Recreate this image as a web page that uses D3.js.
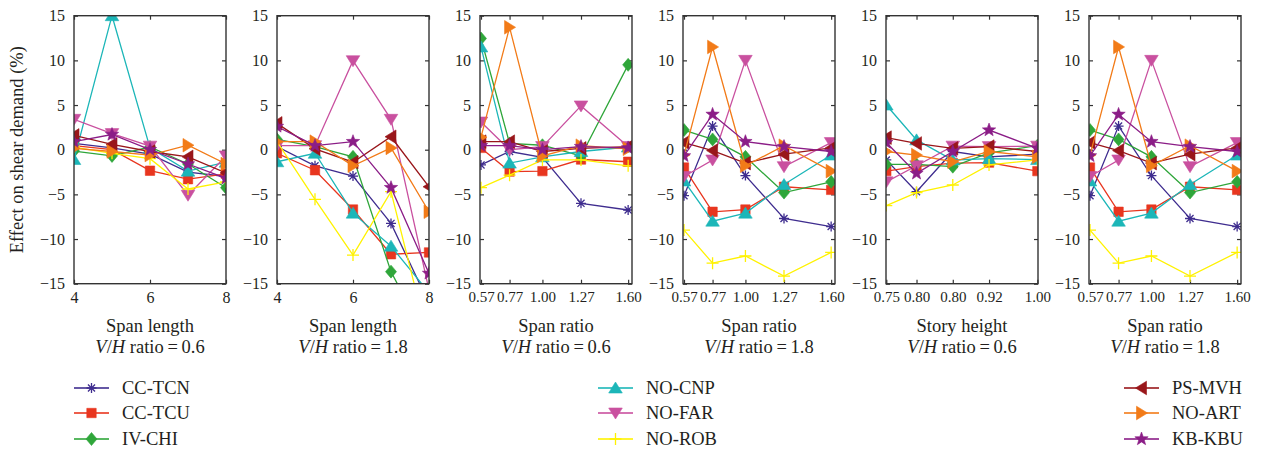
<!DOCTYPE html>
<html lang="en">
<head>
<meta charset="utf-8"/>
<style>
body { margin: 0; background: #fff; }
svg, svg text, svg tspan { font-family: "Liberation Serif", "Times New Roman", "DejaVu Serif", serif !important; }
.axis .domain { display: none; }
.axis line { stroke: #333; stroke-width: 1.2; }
</style>
</head>
<body>
<svg width="1269" height="451"></svg>
<script src="https://d3js.org/d3.v7.min.js"></script>
<script>

// series, in legend order
var seriesNames = ["CC-TCN", "CC-TCU", "IV-CHI", "NO-CNP", "NO-FAR", "NO-ROB", "PS-MVH", "NO-ART", "KB-KBU"];
var seriesColors = ["#3f2d8f", "#e8361f", "#2fa63a", "#1cb6b8", "#c9509f", "#fff200", "#99161a", "#f27b18", "#8b1d87"];
var seriesMarkers = ["asterisk", "square", "diamond", "triUp", "triDown", "plus", "triLeft", "triRight", "star"];

// x values and tick labels
var spanLength = [4, 5, 6, 7, 8];
var spanLengthTicks = [4, 6, 8];
var spanRatio = [0.57, 0.77, 1.00, 1.27, 1.60];
var spanRatioTicks = ["0.57", "0.77", "1.00", "1.27", "1.60"];
var storyHeight = [0.75, 0.80, 0.86, 0.92, 1.00];
var storyHeightTicks = ["0.75", "0.80", "0.80", "0.92", "1.00"];
var yTicks = [-15, -10, -5, 0, 5, 10, 15];

// effect on shear demand (%), one row per series
var lengthVH06 = [
  [0.7, 0.2, -0.5, -2.5, -3.0],
  [0.45, 0.0, -2.35, -3.3, -2.7],
  [-0.15, -0.7, 0.3, -1.6, -4.25],
  [-1.1, 15.0, 0.2, -2.4, -1.4],
  [3.4, 1.8, 0.4, -5.1, -0.7],
  [0.3, -0.4, -1.0, -4.4, -3.6],
  [1.6, 0.6, -0.2, -0.8, -2.6],
  [0.15, -0.2, -0.6, 0.5, -1.6],
  [0.9, 1.7, 0.0, -1.6, -3.2]
];
var lengthVH18 = [
  [0.35, -1.8, -2.95, -8.25, -17.2],
  [-0.4, -2.3, -6.7, -11.7, -11.5],
  [1.15, 0.35, -0.8, -13.65, -21.8],
  [-1.35, -0.4, -7.1, -10.8, -16.0],
  [0.45, 0.45, 9.96, 3.4, -15.7],
  [0.9, -5.55, -11.8, -4.7, -21.6],
  [2.95, 0.1, -1.4, 1.45, -4.15],
  [0.9, 0.9, -1.8, 0.2, -6.95],
  [2.6, 0.45, 0.9, -4.25, -13.85]
];
var ratioVH06 = [
  [-1.7, -0.2, -0.85, -6.0, -6.75],
  [0.2, -2.45, -2.4, -1.1, -1.35],
  [12.45, 0.7, 0.5, -0.7, 9.5],
  [11.5, -1.5, -0.8, -0.2, 0.3],
  [3.1, 0.0, 0.35, 4.9, 0.35],
  [-4.25, -2.85, -1.15, -1.15, -1.8],
  [0.9, 0.9, -0.2, 0.15, 0.35],
  [1.4, 13.7, -0.7, 0.45, 0.1],
  [0.45, 0.45, 0.0, 0.35, 0.2]
];
var ratioVH18 = [
  [-5.15, 2.65, -2.9, -7.7, -8.6],
  [-2.0, -6.95, -6.7, -4.15, -4.5],
  [2.2, 1.15, -0.8, -4.8, -3.6],
  [-3.5, -8.0, -7.1, -3.9, -0.6],
  [-3.0, -1.15, 10.0, -1.9, 0.8],
  [-9.0, -12.7, -11.9, -14.15, -11.5],
  [0.8, -0.1, -1.5, -0.5, 0.2],
  [-0.6, 11.5, -1.8, 0.45, -2.4],
  [-0.7, 3.95, 0.9, 0.35, -0.2]
];
var storyVH06 = [
  [-1.15, -4.7, -0.2, -0.8, -0.5],
  [-2.4, -1.9, -1.5, -1.45, -2.4],
  [-1.65, -1.65, -1.9, -0.35, 0.45],
  [5.0, 1.1, -1.15, -1.0, -1.1],
  [-3.6, -1.8, 0.4, 0.35, 0.4],
  [-6.25, -4.8, -3.95, -1.7, -1.15],
  [1.35, 0.7, 0.15, 0.35, -0.2],
  [-0.2, -0.6, -1.35, -0.2, -0.8],
  [0.8, -2.65, -0.2, 2.2, 0.15]
];
var ratioVH18b = [
  [-5.15, 2.65, -2.9, -7.7, -8.6],
  [-2.0, -6.95, -6.7, -4.15, -4.5],
  [2.2, 1.15, -0.8, -4.8, -3.6],
  [-3.5, -8.0, -7.1, -3.9, -0.6],
  [-3.0, -1.15, 10.0, -1.9, 0.8],
  [-9.0, -12.7, -11.9, -14.15, -11.5],
  [0.8, -0.1, -1.5, -0.5, 0.2],
  [-0.6, 11.5, -1.8, 0.45, -2.4],
  [-0.7, 3.95, 0.9, 0.35, -0.2]
];

var panels = [
  {xs: spanLength, dom: [4, 8], ticks: spanLengthTicks, labels: null, vals: lengthVH06, title: "Span length", vh: "0.6"},
  {xs: spanLength, dom: [4, 8], ticks: spanLengthTicks, labels: null, vals: lengthVH18, title: "Span length", vh: "1.8"},
  {xs: spanRatio, dom: [0.563, 1.627], ticks: spanRatio, labels: spanRatioTicks, vals: ratioVH06, title: "Span ratio", vh: "0.6"},
  {xs: spanRatio, dom: [0.563, 1.627], ticks: spanRatio, labels: spanRatioTicks, vals: ratioVH18, title: "Span ratio", vh: "1.8"},
  {xs: storyHeight, dom: [0.7495, 1.001], ticks: storyHeight, labels: storyHeightTicks, vals: storyVH06, title: "Story height", vh: "0.6"},
  {xs: spanRatio, dom: [0.563, 1.627], ticks: spanRatio, labels: spanRatioTicks, vals: ratioVH18b, title: "Span ratio", vh: "1.8"}
];

var ink = "#231f20";

var svg = d3.select("svg"),
    top0 = 15.7, height = 268, width = 152, step = 203, left0 = 74;

var y = d3.scaleLinear().domain([-15, 15]).range([height, 0]);

// marker shapes as path strings
function markerPath(type) {
  var p = d3.path();
  if (type == "square") { p.rect(-4.7, -4.7, 9.4, 9.4); }
  else if (type == "diamond") { p.moveTo(0, -6.5); p.lineTo(5.5, 0); p.lineTo(0, 6.5); p.lineTo(-5.5, 0); p.closePath(); }
  else if (type == "triUp") { p.moveTo(0, -6); p.lineTo(6.8, 5); p.lineTo(-6.8, 5); p.closePath(); }
  else if (type == "triDown") { p.moveTo(0, 6); p.lineTo(6.8, -5); p.lineTo(-6.8, -5); p.closePath(); }
  else if (type == "triLeft") { p.moveTo(-6, 0); p.lineTo(5, -6.8); p.lineTo(5, 6.8); p.closePath(); }
  else if (type == "triRight") { p.moveTo(6, 0); p.lineTo(-5, -6.8); p.lineTo(-5, 6.8); p.closePath(); }
  else if (type == "star") {
    for (var k = 0; k < 10; k++) {
      var r = k % 2 ? 2.9 : 7, a = -Math.PI / 2 + k * Math.PI / 5;
      if (k == 0) p.moveTo(r * Math.cos(a), r * Math.sin(a)); else p.lineTo(r * Math.cos(a), r * Math.sin(a));
    }
    p.closePath();
  }
  else if (type == "plus") { p.moveTo(-6, 0); p.lineTo(6, 0); p.moveTo(0, -6); p.lineTo(0, 6); }
  else if (type == "asterisk") {
    for (var j = 0; j < 4; j++) {
      var b = j * Math.PI / 4;
      p.moveTo(-5 * Math.cos(b), -5 * Math.sin(b)); p.lineTo(5 * Math.cos(b), 5 * Math.sin(b));
    }
  }
  return p.toString();
}
function isStroked(type) { return type == "plus" || type == "asterisk"; }

function drawMarker(sel, i) {
  var t = seriesMarkers[i];
  sel.append("path")
    .attr("d", markerPath(t))
    .attr("fill", isStroked(t) ? "none" : seriesColors[i])
    .attr("stroke", seriesColors[i])
    .attr("stroke-width", isStroked(t) ? 1.3 : 0.6);
}

panels.forEach(function(pn, pi) {
  var g = svg.append("g").attr("transform", "translate(" + (left0 + pi * step) + "," + top0 + ")");
  var x = d3.scaleLinear().domain(pn.dom).range([0, width]);

  g.append("clipPath").attr("id", "clip" + pi)
    .append("rect").attr("width", width).attr("height", height);

  // ticks on all four sides, pointing in
  var fmt = pn.labels ? function(d, k) { return pn.labels[k]; } : d3.format("d");
  g.append("g").attr("class", "axis")
    .attr("transform", "translate(0," + height + ")")
    .call(d3.axisBottom(x).tickValues(pn.ticks).tickSize(-4).tickPadding(8).tickFormat(fmt))
    .attr("font-size", pn.labels ? 15 : 16)
    .selectAll("text").attr("fill", ink);
  g.append("g").attr("class", "axis")
    .call(d3.axisTop(x).tickValues(pn.ticks).tickSize(-4).tickFormat(""));
  g.append("g").attr("class", "axis")
    .call(d3.axisLeft(y).tickValues(yTicks).tickSize(-4).tickPadding(9))
    .attr("font-size", 16)
    .selectAll("text").attr("fill", ink);
  g.append("g").attr("class", "axis")
    .attr("transform", "translate(" + width + ",0)")
    .call(d3.axisRight(y).tickValues(yTicks).tickSize(-4).tickFormat(""));

  var plot = g.append("g").attr("clip-path", "url(#clip" + pi + ")");
  var line = d3.line()
    .x(function(d, k) { return x(pn.xs[k]); })
    .y(function(d) { return y(d); });

  pn.vals.forEach(function(row, si) {
    var s = plot.append("g");
    s.append("path")
      .attr("d", line(row))
      .attr("fill", "none")
      .attr("stroke", seriesColors[si])
      .attr("stroke-width", 1.3);
    row.forEach(function(v, k) {
      if (v < -15.5) return;
      var m = s.append("g").attr("transform", "translate(" + x(pn.xs[k]) + "," + y(v) + ")");
      drawMarker(m, si);
    });
  });

  g.append("rect")
    .attr("width", width).attr("height", height)
    .attr("fill", "none").attr("stroke", "#333").attr("stroke-width", 1.4);

  // axis titles
  g.append("text")
    .attr("x", width / 2).attr("y", height + 48)
    .attr("text-anchor", "middle").attr("font-size", 18.5).attr("fill", ink)
    .text(pn.title);
  var t2 = g.append("text")
    .attr("x", width / 2).attr("y", height + 69)
    .attr("text-anchor", "middle").attr("font-size", 18.5).attr("fill", ink);
  t2.append("tspan").attr("font-style", "italic").text("V");
  t2.append("tspan").text("/");
  t2.append("tspan").attr("font-style", "italic").text("H");
  t2.append("tspan").text(" ratio\u2009=\u2009" + pn.vh);
});

// y label
svg.append("text")
  .attr("transform", "translate(23," + (top0 + height / 2) + ") rotate(-90)")
  .attr("text-anchor", "middle").attr("font-size", 18.5).attr("fill", ink)
  .text("Effect on shear demand (%)");

// legend, three columns of three
var legendX = [74, 598, 1124];
var legendY = [388, 413, 439];
seriesNames.forEach(function(name, i) {
  var lx = legendX[Math.floor(i / 3)], ly = legendY[i % 3];
  var lg = svg.append("g").attr("transform", "translate(" + lx + "," + ly + ")");
  lg.append("line")
    .attr("x1", 0).attr("x2", 35)
    .attr("stroke", seriesColors[i]).attr("stroke-width", 2).attr("stroke-opacity", 0.8);
  drawMarker(lg.append("g").attr("transform", "translate(17.5,0)"), i);
  lg.append("text")
    .attr("x", 48).attr("dy", "0.35em").attr("font-size", 18.5).attr("fill", ink)
    .text(name);
});

</script>
</body>
</html>
